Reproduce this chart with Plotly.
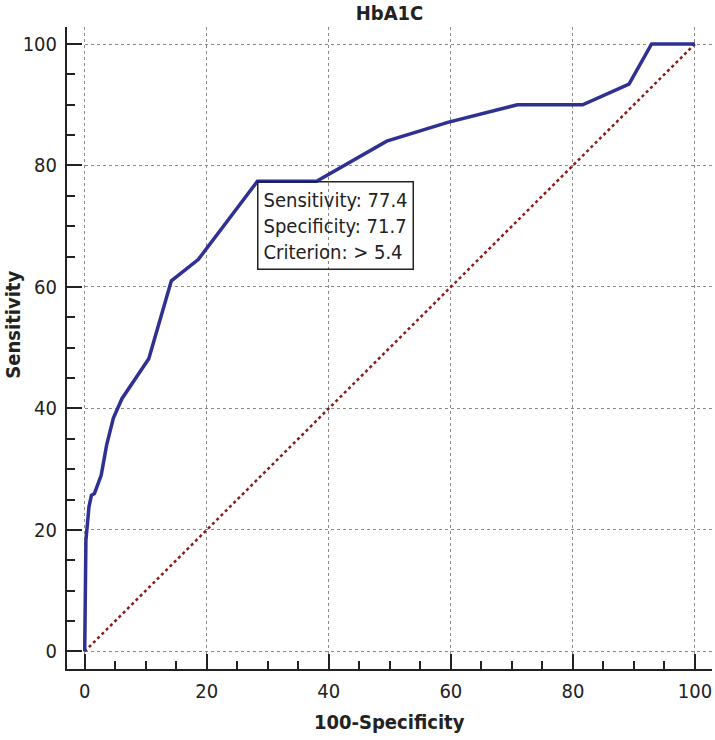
import plotly.graph_objects as go

# ROC curve for HbA1C
fpr = [0, 0.1, 0.2, 0.7, 1.1, 1.6, 2.7, 3.6, 4.7, 6.1, 10.5, 14.2, 18.6,
       28.3, 38.0, 49.5, 59.5, 70.9, 81.6, 89.2, 92.9, 100]
tpr = [0, 8.4, 18.3, 23.8, 25.7, 26.0, 29.0, 34.0, 38.4, 41.6, 48.2, 61.0, 64.5,
       77.4, 77.4, 84.0, 87.1, 90.0, 90.0, 93.4, 100, 100]

ref_line = [0, 100]

best_sens = 77.4
best_spec = 71.7
best_crit = "> 5.4"

tick_vals = [0, 20, 40, 60, 80, 100]

FONT = "DejaVu Sans Condensed, Liberation Sans Narrow, sans-serif"

fig = go.Figure()

fig.add_trace(go.Scatter(
    x=ref_line, y=ref_line, mode="lines",
    line=dict(color="#8B1A1A", width=2.5, dash="dot"),
    hoverinfo="skip",
))

fig.add_trace(go.Scatter(
    x=fpr, y=tpr, mode="lines",
    line=dict(color="#2E3192", width=3.5),
))

axis_common = dict(
    tickvals=tick_vals,
    showline=True, linecolor="#222", linewidth=2, mirror=False,
    ticks="inside", ticklen=15, tickwidth=2, tickcolor="#222",
    minor=dict(dtick=5, tick0=0, ticks="inside", ticklen=8, tickwidth=2,
               tickcolor="#222", showgrid=False),
    showgrid=True, gridcolor="#8a8a8a", gridwidth=1, griddash="dot",
    zeroline=False, automargin=False,
    tickfont=dict(family=FONT, size=20, color="#222"),
)

fig.update_xaxes(range=[-2.9, 102.8], ticklabelstandoff=3, **axis_common)
fig.update_yaxes(range=[-2.9, 102.8], ticklabelstandoff=4, **axis_common)

fig.add_annotation(
    x=100 - best_spec, y=best_sens, xref="x", yref="y",
    xanchor="left", yanchor="top", showarrow=False, align="left",
    text=f"Sensitivity: {best_sens}<br>Specificity: {best_spec}<br>Criterion: {best_crit}",
    font=dict(family=FONT, size=20, color="#222"),
    bordercolor="#222", borderwidth=1.5, borderpad=5,
)

# axis titles
fig.add_annotation(
    x=0.5, y=-0.083, xref="paper", yref="paper", showarrow=False,
    text="<b>100-Specificity</b>", font=dict(family=FONT, size=20, color="#222"),
    yanchor="middle",
)
fig.add_annotation(
    x=-0.084, y=0.536, xref="paper", yref="paper", showarrow=False,
    text="<b>Sensitivity</b>", textangle=-90,
    font=dict(family=FONT, size=20, color="#222"), xanchor="center",
)

fig.update_layout(
    width=715, height=740,
    title=dict(text="<b>HbA1C</b>", xref="paper", x=0.5, xanchor="center",
               y=0.983, yanchor="middle",
               font=dict(family=FONT, size=20, color="#222")),
    plot_bgcolor="white", paper_bgcolor="white",
    margin=dict(l=67, r=3, t=27, b=71),
    showlegend=False,
)

# drop the browser's default 8px body margin so the figure sits at the page corner
fig.write_html("out.html", config={"displayModeBar": False},
               post_script="document.body.style.margin = '0';")
